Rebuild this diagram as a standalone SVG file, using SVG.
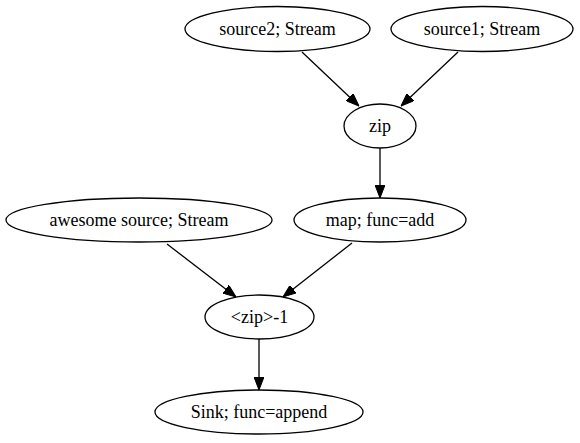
<svg xmlns="http://www.w3.org/2000/svg" width="580" height="443" viewBox="0 0 580 443">
<style>
  .n ellipse { fill: none; stroke: #000; stroke-width: 1.3; }
  .n text { font-family: "Liberation Serif", "Times New Roman", serif; font-size: 18px; text-anchor: middle; fill: #000; }
  .e line { stroke: #000; stroke-width: 1.3; marker-end: url(#ah); }
</style>
<defs>
  <marker id="ah" viewBox="0 0 13 10" refX="13" refY="5" markerWidth="13" markerHeight="10" markerUnits="userSpaceOnUse" orient="auto">
    <path d="M0,0 L13,5 L0,10 z" fill="#000" stroke="#000" stroke-width="1"/>
  </marker>
</defs>
<rect width="580" height="443" fill="#fff"/>
<g id="source2" class="n"><ellipse cx="277.5" cy="29" rx="92.5" ry="22.5"/><text x="277.5" y="35">source2; Stream</text></g>
<g id="source1" class="n"><ellipse cx="482" cy="29" rx="91" ry="22.5"/><text x="482" y="35">source1; Stream</text></g>
<g id="zip" class="n"><ellipse cx="380" cy="126" rx="36" ry="22"/><text x="380" y="132">zip</text></g>
<g id="awesome" class="n"><ellipse cx="139" cy="220" rx="133" ry="22"/><text x="139" y="226">awesome source; Stream</text></g>
<g id="map" class="n"><ellipse cx="380" cy="220" rx="86" ry="22"/><text x="380" y="226">map; func=add</text></g>
<g id="zip1" class="n"><ellipse cx="259.5" cy="317" rx="54.5" ry="22"/><text x="259.5" y="323">&lt;zip&gt;-1</text></g>
<g id="sink" class="n"><ellipse cx="259" cy="412" rx="104" ry="22"/><text x="259" y="418">Sink; func=append</text></g>
<g id="edges" class="e">
  <line x1="302" y1="52" x2="359" y2="106"/>
  <line x1="458" y1="52" x2="401" y2="106"/>
  <line x1="380" y1="148" x2="380" y2="198"/>
  <line x1="167" y1="244" x2="236" y2="297"/>
  <line x1="352" y1="243" x2="283" y2="297"/>
  <line x1="259" y1="339" x2="259" y2="390"/>
</g>
</svg>
